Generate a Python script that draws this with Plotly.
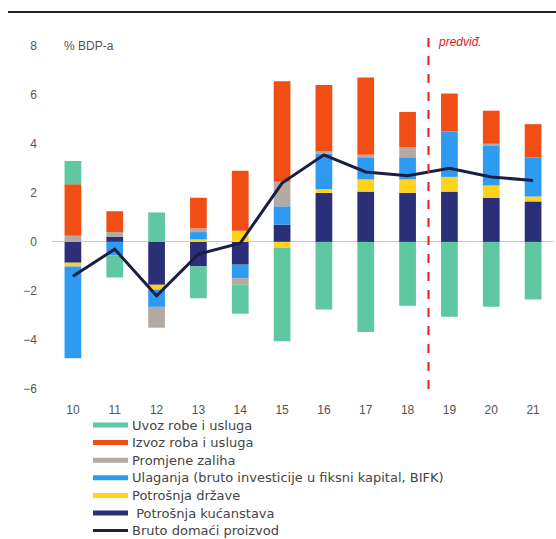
import plotly.graph_objects as go

years = ["10", "11", "12", "13", "14", "15", "16", "17", "18", "19", "20", "21"]

kucanstva = [-0.85, 0.2, -1.75, -1.0, -0.93, 0.7, 2.0, 2.05, 2.0, 2.05, 1.8, 1.65]
drzava = [-0.15, 0.0, -0.2, 0.1, 0.45, -0.25, 0.15, 0.5, 0.55, 0.6, 0.5, 0.2]
ulaganja = [-3.75, -0.55, -0.7, 0.3, -0.55, 0.75, 1.45, 0.9, 0.9, 1.85, 1.65, 1.6]
zalihe = [0.25, 0.2, -0.85, 0.15, -0.25, 1.0, 0.1, 0.1, 0.4, 0.0, 0.05, 0.0]
izvoz = [2.1, 0.85, 0.0, 1.25, 2.45, 4.1, 2.7, 3.15, 1.45, 1.55, 1.35, 1.35]
uvoz = [0.95, -0.9, 1.2, -1.3, -1.2, -3.8, -2.76, -3.68, -2.6, -3.05, -2.65, -2.35]
bdp = [-1.4, -0.3, -2.2, -0.5, -0.05, 2.4, 3.55, 2.85, 2.7, 3.0, 2.65, 2.5]

names = {
    "uvoz": "Uvoz robe i usluga",
    "izvoz": "Izvoz roba i usluga",
    "zalihe": "Promjene zaliha",
    "ulaganja": "Ulaganja (bruto investicije u fiksni kapital, BIFK)",
    "drzava": "Potrošnja države",
    "kucanstva": " Potrošnja kućanstava",
    "bdp": "Bruto domaći proizvod",
}
colors = {
    "uvoz": "#5FC7A2",
    "izvoz": "#F04E14",
    "zalihe": "#B3AAA4",
    "ulaganja": "#2F9BF0",
    "drzava": "#FFD21E",
    "kucanstva": "#2B2F78",
    "bdp": "#1C1F45",
}
legend_order = ["uvoz", "izvoz", "zalihe", "ulaganja", "drzava", "kucanstva", "bdp"]

fig = go.Figure()
stack = [("kucanstva", kucanstva), ("drzava", drzava), ("ulaganja", ulaganja),
         ("zalihe", zalihe), ("izvoz", izvoz), ("uvoz", uvoz)]
for key, vals in stack:
    fig.add_trace(go.Bar(x=years, y=vals, name=names[key], marker_color=colors[key],
                         marker_line_width=0, showlegend=False, width=0.4))

fig.add_trace(go.Scatter(x=years, y=bdp, mode="lines", name=names["bdp"],
                         line=dict(color=colors["bdp"], width=3), showlegend=False))

# legend drawn below the plot (line swatches as in the original)
PLOT_TOP, PLOT_H, PLOT_L, PLOT_W = 31, 358, 52, 502
def px_x(p):
    return (p - PLOT_L) / PLOT_W
def px_y(p):
    return (PLOT_TOP + PLOT_H - p) / PLOT_H

for i, key in enumerate(legend_order):
    yc = px_y(425 + i * 17.6)
    fig.add_shape(type="line", xref="paper", yref="paper", x0=px_x(93), x1=px_x(128), y0=yc, y1=yc,
                  line=dict(color=colors[key], width=3 if key == "bdp" else 5))
    fig.add_annotation(text=names[key], xref="paper", yref="paper", x=px_x(130), y=yc,
                       xanchor="left", yanchor="middle", showarrow=False,
                       font=dict(family="DejaVu Sans, sans-serif", size=13, color="#444444"))

fig.add_shape(type="line", xref="x", yref="paper", x0=8.5, x1=8.5, y0=0.0, y1=1.0,
              line=dict(color="#E0201E", width=2, dash="dash"))
fig.add_shape(type="line", xref="paper", yref="paper", x0=px_x(8), x1=1.01, y0=px_y(12), y1=px_y(12),
              line=dict(color="#222222", width=2))

fig.add_annotation(text="% BDP-a", xref="paper", yref="y", x=0.02, y=8, xanchor="left",
                   showarrow=False, font=dict(size=12, color="#555555"))
fig.add_annotation(text="<i>predviđ.</i>", xref="paper", yref="y", x=0.765, y=8.15, xanchor="left",
                   showarrow=False, font=dict(size=12, color="#E0201E"))

fig.update_layout(
    width=556, height=539,
    margin=dict(l=52, r=2, t=31, b=150, autoexpand=False),
    barmode="relative",
    bargap=0.6,
    plot_bgcolor="white", paper_bgcolor="white",
    font=dict(family="Liberation Sans, Arial, sans-serif", size=12, color="#555555"),
    showlegend=False,
    xaxis=dict(type="category", showgrid=False, zeroline=False, showline=False,
               ticks="", ticklabelstandoff=12, tickfont=dict(size=12, color="#555555")),
    yaxis=dict(range=[-6, 8.6], tickvals=[-6, -4, -2, 0, 2, 4, 6, 8], showgrid=False,
               zeroline=True, zerolinecolor="#C8C8C8", zerolinewidth=1, showline=False,
               ticks="", ticklabelstandoff=14, tickfont=dict(size=12, color="#555555")),
)

fig.write_html("out.html", config={"displayModeBar": False},
               post_script="document.body.style.margin='0';")
